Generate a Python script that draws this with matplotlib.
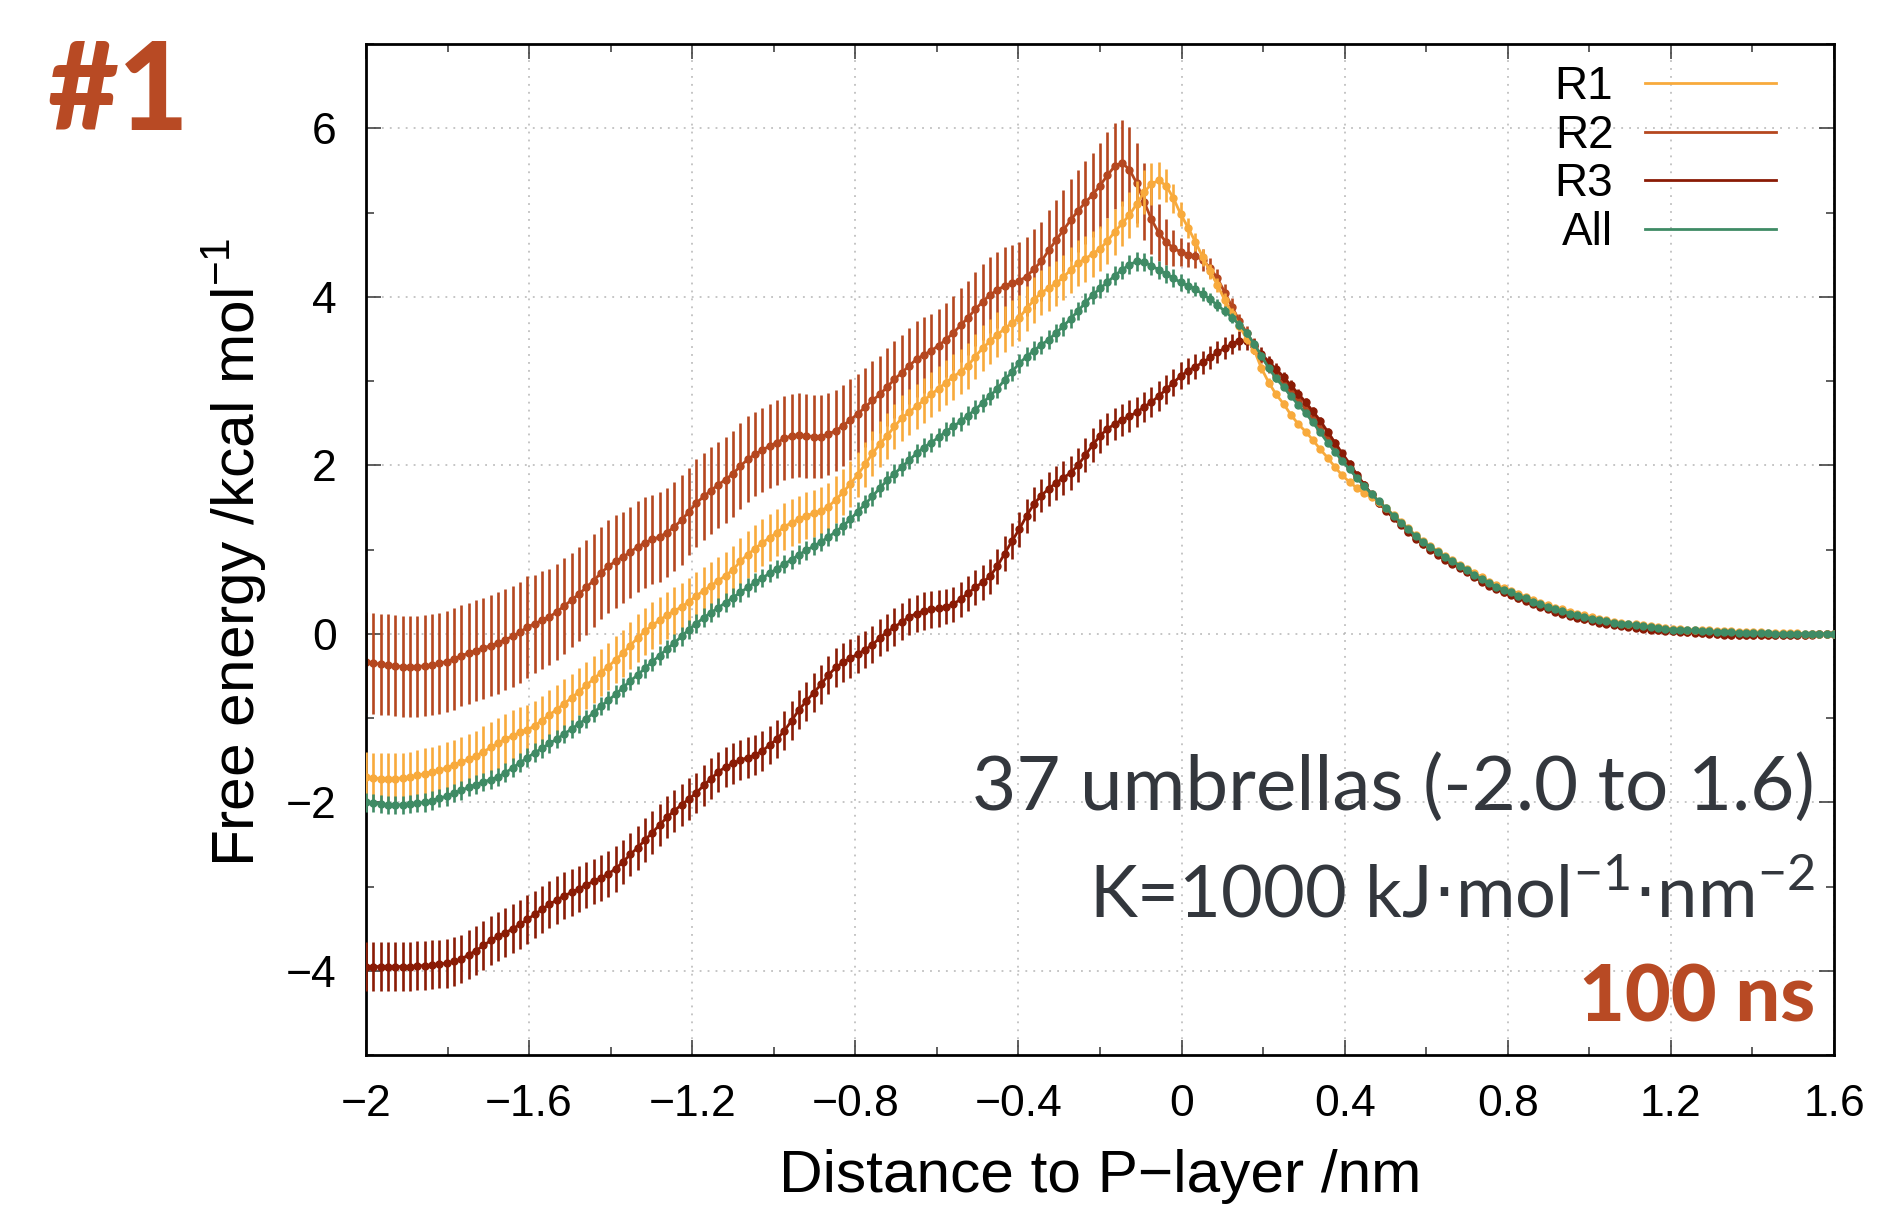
import numpy as np
import matplotlib
matplotlib.use("Agg")
import matplotlib.pyplot as plt
from matplotlib.lines import Line2D
from matplotlib.ticker import MultipleLocator, FixedLocator, FixedFormatter

plt.rcParams['font.family'] = ['Liberation Sans', 'DejaVu Sans']

# ---------------- data ----------------
x_first, x_step, n_bins = -2.0, 0.018, 201
distance = np.round(x_first + x_step * np.arange(n_bins), 3)

r1 = [
    -1.70, -1.71, -1.72, -1.72, -1.72, -1.71, -1.70, -1.68, -1.66, -1.64,
    -1.62, -1.59, -1.56, -1.52, -1.49, -1.45, -1.40, -1.35, -1.30, -1.25,
    -1.21, -1.17, -1.14, -1.09, -1.03, -0.96, -0.90, -0.83, -0.76, -0.69,
    -0.61, -0.54, -0.46, -0.39, -0.31, -0.23, -0.14, -0.05, 0.03, 0.10,
    0.16, 0.22, 0.27, 0.32, 0.38, 0.45, 0.51, 0.57, 0.63, 0.69,
    0.76, 0.86, 0.94, 1.01, 1.08, 1.14, 1.20, 1.27, 1.32, 1.36,
    1.40, 1.43, 1.46, 1.51, 1.59, 1.68, 1.78, 1.89, 2.01, 2.14,
    2.25, 2.35, 2.46, 2.56, 2.63, 2.70, 2.77, 2.84, 2.91, 2.98,
    3.05, 3.11, 3.18, 3.29, 3.39, 3.47, 3.55, 3.62, 3.69, 3.75,
    3.86, 3.96, 4.05, 4.10, 4.16, 4.23, 4.32, 4.40, 4.45, 4.51,
    4.57, 4.66, 4.77, 4.87, 4.97, 5.10, 5.24, 5.34, 5.38, 5.32,
    5.17, 4.98, 4.82, 4.65, 4.47, 4.30, 4.14, 3.96, 3.80, 3.65,
    3.50, 3.37, 3.15, 2.98, 2.84, 2.73, 2.60, 2.49, 2.40, 2.30,
    2.19, 2.09, 1.98, 1.88, 1.80, 1.73, 1.67, 1.62, 1.56, 1.49,
    1.41, 1.33, 1.25, 1.17, 1.10, 1.04, 0.98, 0.92, 0.87, 0.82,
    0.77, 0.72, 0.67, 0.62, 0.58, 0.54, 0.51, 0.47, 0.44, 0.40,
    0.37, 0.34, 0.31, 0.29, 0.26, 0.24, 0.22, 0.20, 0.18, 0.16,
    0.14, 0.13, 0.12, 0.11, 0.10, 0.09, 0.08, 0.07, 0.06, 0.06,
    0.05, 0.05, 0.04, 0.04, 0.03, 0.03, 0.03, 0.02, 0.02, 0.02,
    0.02, 0.01, 0.01, 0.01, 0.01, 0.01, 0.00, 0.00, 0.00, 0.00,
    0.00]

r2 = [
    -0.34, -0.35, -0.36, -0.37, -0.38, -0.39, -0.39, -0.39, -0.38, -0.37,
    -0.35, -0.33, -0.30, -0.26, -0.23, -0.20, -0.17, -0.14, -0.11, -0.07,
    -0.03, 0.02, 0.08, 0.12, 0.16, 0.20, 0.26, 0.33, 0.40, 0.47,
    0.55, 0.63, 0.72, 0.80, 0.86, 0.91, 0.97, 1.03, 1.08, 1.12,
    1.15, 1.20, 1.27, 1.35, 1.45, 1.55, 1.63, 1.70, 1.77, 1.83,
    1.90, 1.99, 2.07, 2.13, 2.18, 2.23, 2.27, 2.32, 2.35, 2.36,
    2.35, 2.34, 2.34, 2.37, 2.41, 2.47, 2.54, 2.61, 2.69, 2.77,
    2.84, 2.93, 3.02, 3.10, 3.18, 3.26, 3.31, 3.36, 3.42, 3.49,
    3.57, 3.66, 3.75, 3.85, 3.94, 4.02, 4.08, 4.13, 4.16, 4.19,
    4.24, 4.33, 4.42, 4.55, 4.67, 4.79, 4.91, 5.02, 5.12, 5.21,
    5.32, 5.44, 5.55, 5.59, 5.51, 5.35, 5.13, 4.92, 4.76, 4.65,
    4.58, 4.53, 4.50, 4.48, 4.44, 4.34, 4.22, 4.05, 3.88, 3.71,
    3.57, 3.43, 3.28, 3.17, 3.06, 2.96, 2.87, 2.77, 2.67, 2.55,
    2.43, 2.32, 2.20, 2.08, 1.97, 1.86, 1.76, 1.66, 1.56, 1.47,
    1.38, 1.30, 1.22, 1.14, 1.07, 1.01, 0.95, 0.89, 0.84, 0.79,
    0.74, 0.68, 0.63, 0.58, 0.54, 0.50, 0.47, 0.43, 0.40, 0.36,
    0.33, 0.30, 0.27, 0.25, 0.22, 0.20, 0.18, 0.16, 0.14, 0.13,
    0.11, 0.10, 0.09, 0.08, 0.07, 0.06, 0.05, 0.04, 0.03, 0.03,
    0.02, 0.02, 0.01, 0.01, 0.00, 0.00, -0.01, -0.01, -0.01, -0.01,
    -0.01, -0.01, -0.01, -0.01, -0.01, -0.01, -0.01, 0.00, 0.00, 0.00,
    0.00]

r3 = [
    -3.95, -3.95, -3.95, -3.95, -3.95, -3.95, -3.95, -3.94, -3.94, -3.93,
    -3.92, -3.91, -3.89, -3.86, -3.81, -3.76, -3.70, -3.64, -3.59, -3.55,
    -3.50, -3.45, -3.39, -3.33, -3.27, -3.21, -3.16, -3.11, -3.07, -3.03,
    -2.98, -2.94, -2.90, -2.85, -2.79, -2.71, -2.62, -2.54, -2.45, -2.36,
    -2.27, -2.18, -2.10, -2.03, -1.96, -1.89, -1.80, -1.72, -1.64, -1.58,
    -1.54, -1.50, -1.47, -1.44, -1.39, -1.32, -1.25, -1.15, -1.03, -0.90,
    -0.80, -0.70, -0.60, -0.49, -0.40, -0.34, -0.29, -0.24, -0.19, -0.13,
    -0.05, 0.02, 0.08, 0.14, 0.20, 0.24, 0.27, 0.29, 0.30, 0.32,
    0.35, 0.41, 0.48, 0.55, 0.61, 0.68, 0.80, 0.95, 1.10, 1.24,
    1.40, 1.54, 1.64, 1.72, 1.79, 1.85, 1.91, 2.00, 2.12, 2.24,
    2.35, 2.43, 2.49, 2.54, 2.58, 2.63, 2.69, 2.75, 2.82, 2.90,
    2.98, 3.06, 3.12, 3.17, 3.22, 3.28, 3.34, 3.39, 3.44, 3.48,
    3.47, 3.41, 3.32, 3.23, 3.14, 3.05, 2.95, 2.85, 2.75, 2.64,
    2.53, 2.40, 2.27, 2.14, 2.02, 1.89, 1.77, 1.65, 1.55, 1.46,
    1.37, 1.29, 1.21, 1.13, 1.06, 1.00, 0.94, 0.88, 0.83, 0.78,
    0.73, 0.67, 0.62, 0.57, 0.53, 0.49, 0.46, 0.42, 0.39, 0.35,
    0.32, 0.29, 0.26, 0.24, 0.21, 0.19, 0.17, 0.15, 0.13, 0.12,
    0.10, 0.09, 0.08, 0.07, 0.06, 0.05, 0.04, 0.03, 0.03, 0.02,
    0.02, 0.01, 0.01, 0.00, 0.00, -0.01, -0.01, -0.02, -0.02, -0.02,
    -0.02, -0.02, -0.02, -0.02, -0.02, -0.01, -0.01, -0.01, 0.00, 0.00,
    0.00]

all_runs = [
    -2.00, -2.01, -2.02, -2.03, -2.03, -2.03, -2.02, -2.01, -2.00, -1.98,
    -1.95, -1.93, -1.89, -1.86, -1.82, -1.79, -1.76, -1.73, -1.70, -1.65,
    -1.59, -1.53, -1.47, -1.41, -1.36, -1.30, -1.25, -1.19, -1.13, -1.07,
    -1.01, -0.94, -0.86, -0.79, -0.72, -0.64, -0.56, -0.49, -0.41, -0.33,
    -0.26, -0.18, -0.11, -0.03, 0.05, 0.12, 0.19, 0.25, 0.31, 0.37,
    0.43, 0.49, 0.55, 0.61, 0.66, 0.72, 0.77, 0.83, 0.88, 0.94,
    0.99, 1.04, 1.09, 1.15, 1.21, 1.28, 1.36, 1.45, 1.54, 1.63,
    1.73, 1.82, 1.90, 1.98, 2.06, 2.14, 2.21, 2.27, 2.33, 2.40,
    2.46, 2.52, 2.59, 2.66, 2.74, 2.82, 2.91, 3.01, 3.11, 3.21,
    3.29, 3.36, 3.43, 3.49, 3.57, 3.65, 3.74, 3.83, 3.93, 4.02,
    4.10, 4.17, 4.25, 4.32, 4.38, 4.42, 4.41, 4.37, 4.32, 4.27,
    4.22, 4.17, 4.13, 4.09, 4.03, 3.97, 3.90, 3.83, 3.75, 3.67,
    3.57, 3.44, 3.30, 3.15, 3.03, 2.93, 2.82, 2.72, 2.62, 2.51,
    2.39, 2.27, 2.16, 2.05, 1.95, 1.85, 1.75, 1.66, 1.57, 1.49,
    1.40, 1.32, 1.24, 1.16, 1.09, 1.03, 0.97, 0.91, 0.86, 0.81,
    0.76, 0.70, 0.65, 0.60, 0.56, 0.52, 0.49, 0.45, 0.42, 0.38,
    0.35, 0.32, 0.29, 0.27, 0.24, 0.22, 0.20, 0.18, 0.16, 0.15,
    0.13, 0.12, 0.11, 0.10, 0.09, 0.08, 0.07, 0.06, 0.05, 0.05,
    0.04, 0.04, 0.03, 0.03, 0.02, 0.02, 0.02, 0.01, 0.01, 0.01,
    0.01, 0.01, 0.00, 0.00, 0.00, 0.00, 0.00, 0.00, 0.00, 0.00,
    0.00]

r1_err = [
    0.30, 0.30, 0.30, 0.30, 0.30, 0.30, 0.30, 0.30, 0.30, 0.30,
    0.30, 0.30, 0.30, 0.30, 0.30, 0.30, 0.30, 0.30, 0.30, 0.30,
    0.30, 0.30, 0.30, 0.29, 0.29, 0.29, 0.29, 0.29, 0.28, 0.28,
    0.28, 0.28, 0.28, 0.28, 0.28, 0.28, 0.28, 0.28, 0.28, 0.28,
    0.28, 0.28, 0.28, 0.28, 0.28, 0.28, 0.28, 0.28, 0.28, 0.28,
    0.28, 0.28, 0.28, 0.28, 0.28, 0.28, 0.28, 0.28, 0.28, 0.28,
    0.28, 0.28, 0.28, 0.28, 0.28, 0.27, 0.27, 0.27, 0.27, 0.27,
    0.27, 0.27, 0.27, 0.27, 0.27, 0.27, 0.27, 0.27, 0.27, 0.27,
    0.27, 0.27, 0.27, 0.27, 0.27, 0.27, 0.27, 0.27, 0.27, 0.27,
    0.27, 0.27, 0.27, 0.27, 0.27, 0.27, 0.27, 0.27, 0.27, 0.27,
    0.27, 0.27, 0.27, 0.27, 0.27, 0.27, 0.26, 0.25, 0.22, 0.20,
    0.17, 0.14, 0.12, 0.11, 0.10, 0.09, 0.08, 0.08, 0.07, 0.06,
    0.06, 0.05, 0.05, 0.05, 0.04, 0.04, 0.04, 0.04, 0.03, 0.03,
    0.03, 0.03, 0.03, 0.03, 0.03, 0.03, 0.03, 0.03, 0.03, 0.03,
    0.02, 0.02, 0.02, 0.02, 0.02, 0.02, 0.02, 0.02, 0.02, 0.02,
    0.02, 0.02, 0.02, 0.02, 0.02, 0.02, 0.02, 0.02, 0.02, 0.02,
    0.02, 0.02, 0.02, 0.02, 0.02, 0.02, 0.02, 0.02, 0.02, 0.02,
    0.02, 0.02, 0.02, 0.02, 0.02, 0.02, 0.02, 0.02, 0.02, 0.02,
    0.01, 0.01, 0.01, 0.01, 0.01, 0.01, 0.01, 0.01, 0.01, 0.01,
    0.01, 0.01, 0.01, 0.01, 0.01, 0.01, 0.01, 0.01, 0.01, 0.01,
    0.01]

r2_err = [
    0.60, 0.60, 0.60, 0.60, 0.60, 0.60, 0.60, 0.60, 0.60, 0.60,
    0.60, 0.60, 0.60, 0.60, 0.60, 0.60, 0.60, 0.60, 0.60, 0.60,
    0.60, 0.60, 0.60, 0.58, 0.58, 0.57, 0.57, 0.57, 0.56, 0.56,
    0.56, 0.55, 0.55, 0.55, 0.55, 0.54, 0.54, 0.54, 0.54, 0.53,
    0.53, 0.53, 0.53, 0.53, 0.52, 0.52, 0.52, 0.52, 0.51, 0.51,
    0.51, 0.51, 0.51, 0.50, 0.50, 0.50, 0.50, 0.50, 0.50, 0.50,
    0.50, 0.49, 0.49, 0.49, 0.48, 0.48, 0.48, 0.47, 0.47, 0.47,
    0.46, 0.46, 0.46, 0.45, 0.45, 0.45, 0.45, 0.44, 0.44, 0.44,
    0.44, 0.44, 0.44, 0.44, 0.45, 0.45, 0.45, 0.46, 0.46, 0.46,
    0.47, 0.47, 0.47, 0.48, 0.48, 0.48, 0.49, 0.49, 0.49, 0.50,
    0.50, 0.51, 0.51, 0.51, 0.50, 0.48, 0.46, 0.41, 0.34, 0.27,
    0.21, 0.17, 0.15, 0.14, 0.13, 0.12, 0.11, 0.10, 0.10, 0.09,
    0.08, 0.08, 0.07, 0.07, 0.06, 0.06, 0.06, 0.05, 0.05, 0.05,
    0.05, 0.04, 0.04, 0.04, 0.04, 0.04, 0.04, 0.04, 0.04, 0.04,
    0.04, 0.03, 0.03, 0.03, 0.03, 0.03, 0.03, 0.03, 0.03, 0.03,
    0.03, 0.03, 0.03, 0.03, 0.03, 0.03, 0.03, 0.03, 0.03, 0.03,
    0.03, 0.02, 0.02, 0.02, 0.02, 0.02, 0.02, 0.02, 0.02, 0.02,
    0.02, 0.02, 0.02, 0.02, 0.02, 0.02, 0.02, 0.02, 0.02, 0.02,
    0.02, 0.02, 0.02, 0.02, 0.02, 0.02, 0.02, 0.02, 0.02, 0.02,
    0.02, 0.02, 0.02, 0.02, 0.02, 0.02, 0.02, 0.02, 0.02, 0.02,
    0.02]

r3_err = [
    0.29, 0.29, 0.29, 0.29, 0.29, 0.29, 0.29, 0.29, 0.29, 0.29,
    0.29, 0.29, 0.29, 0.29, 0.29, 0.29, 0.29, 0.29, 0.29, 0.29,
    0.29, 0.29, 0.29, 0.28, 0.28, 0.28, 0.28, 0.28, 0.28, 0.27,
    0.27, 0.27, 0.27, 0.27, 0.27, 0.26, 0.26, 0.26, 0.26, 0.26,
    0.25, 0.25, 0.25, 0.25, 0.25, 0.24, 0.24, 0.24, 0.24, 0.24,
    0.24, 0.24, 0.24, 0.24, 0.24, 0.23, 0.23, 0.23, 0.23, 0.23,
    0.23, 0.23, 0.23, 0.23, 0.23, 0.23, 0.23, 0.22, 0.22, 0.22,
    0.22, 0.22, 0.22, 0.22, 0.22, 0.22, 0.22, 0.22, 0.22, 0.21,
    0.21, 0.21, 0.21, 0.21, 0.21, 0.21, 0.21, 0.21, 0.21, 0.21,
    0.20, 0.20, 0.20, 0.20, 0.20, 0.20, 0.20, 0.20, 0.20, 0.20,
    0.20, 0.19, 0.19, 0.19, 0.19, 0.18, 0.18, 0.18, 0.18, 0.17,
    0.16, 0.16, 0.15, 0.15, 0.14, 0.14, 0.13, 0.13, 0.12, 0.11,
    0.10, 0.09, 0.08, 0.07, 0.07, 0.06, 0.06, 0.05, 0.05, 0.05,
    0.04, 0.04, 0.04, 0.04, 0.04, 0.04, 0.04, 0.04, 0.04, 0.04,
    0.03, 0.03, 0.03, 0.03, 0.03, 0.03, 0.03, 0.03, 0.03, 0.03,
    0.03, 0.03, 0.03, 0.03, 0.03, 0.03, 0.03, 0.03, 0.03, 0.03,
    0.02, 0.02, 0.02, 0.02, 0.02, 0.02, 0.02, 0.02, 0.02, 0.02,
    0.02, 0.02, 0.02, 0.02, 0.02, 0.02, 0.02, 0.02, 0.02, 0.02,
    0.02, 0.02, 0.02, 0.02, 0.02, 0.02, 0.02, 0.02, 0.02, 0.02,
    0.02, 0.02, 0.02, 0.02, 0.02, 0.02, 0.02, 0.02, 0.02, 0.02,
    0.02]

all_err = [
    0.11, 0.11, 0.11, 0.11, 0.11, 0.11, 0.11, 0.11, 0.11, 0.11,
    0.11, 0.11, 0.11, 0.11, 0.11, 0.11, 0.11, 0.11, 0.11, 0.11,
    0.11, 0.11, 0.11, 0.11, 0.11, 0.11, 0.11, 0.11, 0.11, 0.11,
    0.11, 0.11, 0.11, 0.11, 0.11, 0.11, 0.11, 0.11, 0.11, 0.11,
    0.11, 0.11, 0.11, 0.11, 0.11, 0.11, 0.11, 0.11, 0.11, 0.11,
    0.11, 0.11, 0.11, 0.11, 0.11, 0.11, 0.11, 0.11, 0.11, 0.11,
    0.11, 0.11, 0.11, 0.11, 0.11, 0.11, 0.11, 0.11, 0.11, 0.11,
    0.11, 0.11, 0.11, 0.11, 0.11, 0.11, 0.11, 0.11, 0.11, 0.11,
    0.11, 0.11, 0.11, 0.11, 0.11, 0.11, 0.11, 0.11, 0.11, 0.11,
    0.11, 0.11, 0.11, 0.11, 0.11, 0.11, 0.11, 0.11, 0.11, 0.11,
    0.11, 0.11, 0.11, 0.11, 0.11, 0.11, 0.11, 0.11, 0.11, 0.11,
    0.11, 0.10, 0.09, 0.08, 0.08, 0.07, 0.07, 0.06, 0.06, 0.05,
    0.05, 0.05, 0.04, 0.04, 0.04, 0.04, 0.03, 0.03, 0.03, 0.03,
    0.03, 0.02, 0.02, 0.02, 0.02, 0.02, 0.02, 0.02, 0.02, 0.02,
    0.02, 0.02, 0.02, 0.02, 0.02, 0.02, 0.02, 0.02, 0.02, 0.02,
    0.02, 0.02, 0.02, 0.02, 0.02, 0.02, 0.02, 0.02, 0.02, 0.02,
    0.01, 0.01, 0.01, 0.01, 0.01, 0.01, 0.01, 0.01, 0.01, 0.01,
    0.01, 0.01, 0.01, 0.01, 0.01, 0.01, 0.01, 0.01, 0.01, 0.01,
    0.01, 0.01, 0.01, 0.01, 0.01, 0.01, 0.01, 0.01, 0.01, 0.01,
    0.01, 0.01, 0.01, 0.01, 0.01, 0.01, 0.01, 0.01, 0.01, 0.01,
    0.01]

series_labels = ["R1", "R2", "R3", "All"]
series_colors = ["#F8AA3C", "#B5471F", "#8A1B05", "#3F8B65"]

xtick_values = [-2.0, -1.6, -1.2, -0.8, -0.4, 0.0, 0.4, 0.8, 1.2, 1.6]
xtick_labels = ["\u22122", "\u22121.6", "\u22121.2", "\u22120.8", "\u22120.4",
                "0", "0.4", "0.8", "1.2", "1.6"]
ytick_values = [-4, -2, 0, 2, 4, 6]
ytick_labels = ["\u22124", "\u22122", "0", "2", "4", "6"]

panel_tag = "#1"
note_line1 = "37 umbrellas (-2.0 to 1.6)"
note_line2 = r"K=1000 kJ$\cdot$mol$^{\mathregular{-1}}$$\cdot$nm$^{\mathregular{-2}}$"
note_line3 = "100 ns"
x_label = "Distance to P\u2212layer /nm"
y_label = r"Free energy /kcal mol$^{\mathregular{-1}}$"

# ---------------- figure ----------------
W, H = 1884, 1207
fig = plt.figure(figsize=(W / 100, H / 100), dpi=100)
ax = fig.add_axes([366 / W, 1 - 1055 / H, (1834 - 366) / W, (1055 - 44) / H])

values = [r1, r2, r3, all_runs]
errors = [r1_err, r2_err, r3_err, all_err]
zorders = [4, 2, 3, 5]
for vals, errs, col, lab, z in zip(values, errors, series_colors, series_labels, zorders):
    ax.errorbar(distance, vals, yerr=errs, fmt='-o', color=col, ecolor=col,
                lw=2.0, ms=5.0, elinewidth=1.9, capsize=0, zorder=z, label=lab)

ax.set_xlim(-2.0, 1.6)
ax.set_ylim(-5, 7)
ax.xaxis.set_major_locator(FixedLocator(xtick_values))
ax.xaxis.set_major_formatter(FixedFormatter(xtick_labels))
ax.xaxis.set_minor_locator(MultipleLocator(0.2))
ax.yaxis.set_major_locator(FixedLocator(ytick_values))
ax.yaxis.set_major_formatter(FixedFormatter(ytick_labels))
ax.yaxis.set_minor_locator(MultipleLocator(1))

ax.tick_params(which='both', direction='in', top=True, right=True,
               color='#333333', width=1.1)
ax.tick_params(which='major', length=11, labelsize=32, pad=21)
ax.tick_params(which='minor', length=5.5)
for s in ax.spines.values():
    s.set_linewidth(2.0)
    s.set_color('black')

ax.grid(True, which='major', color='#b5b5b5', linestyle=(0, (1.2, 4)), linewidth=1.1)
ax.set_axisbelow(True)

ax.set_xlabel(x_label, fontsize=43.5)
ax.xaxis.set_label_coords(0.5, -0.093)
ax.set_ylabel(y_label, fontsize=43.5)
ax.yaxis.set_label_coords(-0.066, 0.497)

handles = [Line2D([], [], color=c, lw=2.0) for c in series_colors]
ax.legend(handles, series_labels, loc='upper right', bbox_to_anchor=(0.9605, 0.979),
          frameon=False, markerfirst=False, fontsize=33, handlelength=2.85,
          handletextpad=0.7, labelspacing=0.1, borderaxespad=0, borderpad=0)

# annotations
ann_color = '#33373D'
tag_color = '#B84A24'
fig.text(48 / W, 1 - 130 / H, panel_tag, fontsize=88, fontweight='black',
         family=['Lato', 'DejaVu Sans'], color=tag_color, ha='left', va='baseline')
fig.text(1815 / W, 1 - 810 / H, note_line1, fontsize=55, family=['Lato', 'DejaVu Sans'],
         color=ann_color, ha='right', va='baseline')
fig.text(1815 / W, 1 - 917 / H, note_line2, fontsize=52, family=['Lato', 'DejaVu Sans'],
         color=ann_color, ha='right', va='baseline')
fig.text(1815 / W, 1 - 1022 / H, note_line3, fontsize=57, fontweight='black',
         family=['Lato', 'DejaVu Sans'], color=tag_color, ha='right', va='baseline')

fig.savefig("out.png", dpi=100)
